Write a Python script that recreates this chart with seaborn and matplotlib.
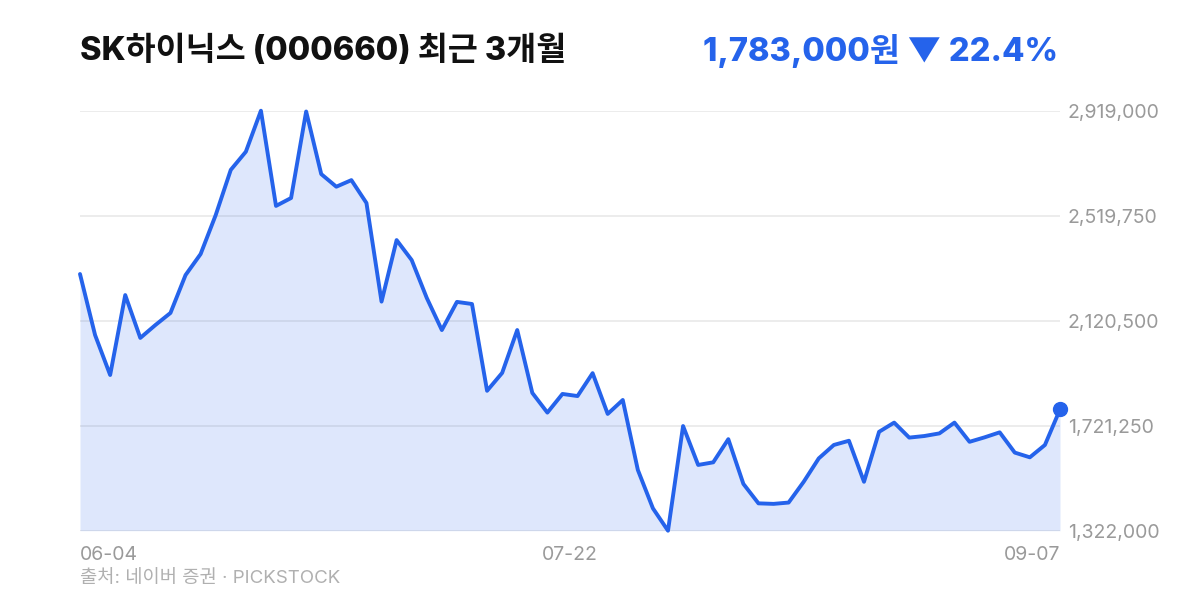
import numpy as np
import pandas as pd
import matplotlib
matplotlib.use("Agg")
import matplotlib.pyplot as plt
import seaborn as sns

# --- Data ---
prices = [
    2298000, 2066000, 1914000, 2218000, 2055000, 2104000, 2150000, 2294000,
    2374000, 2522000, 2694000, 2763000, 2919000, 2557000, 2587000, 2916000,
    2678000, 2630000, 2655000, 2568000, 2193000, 2427000, 2351000, 2207000,
    2085000, 2192000, 2184000, 1854000, 1922000, 2085000, 1846000, 1771000,
    1842000, 1834000, 1921000, 1766000, 1819000, 1553000, 1407000, 1322000,
    1720000, 1572000, 1582000, 1670000, 1500000, 1426000, 1424000, 1429000,
    1508000, 1597000, 1648000, 1664000, 1508000, 1698000, 1733000, 1676000,
    1682000, 1692000, 1733000, 1660000, 1677000, 1696000, 1619000, 1601000,
    1648000, 1783000,
]
x_labels = ["06-04", "07-22", "09-07"]
y_ticks = [1322000, 1721250, 2120500, 2519750, 2919000]

title = "SK하이닉스 (000660) 최근 3개월"
price_text = "1,783,000원 ▼ 22.4%"
source_text = "출처: 네이버 증권 · PICKSTOCK"

BLUE = "#2563eb"
GRID = "#ececec"
TICK = "#9a9a9a"

df = pd.DataFrame({"idx": np.arange(len(prices)), "price": prices})

sns.set_theme(style="white")
plt.rcParams["font.family"] = ["Inter", "Noto Sans CJK KR", "DejaVu Sans"]

fig = plt.figure(figsize=(12, 6), dpi=100)
ax = fig.add_axes([80 / 1200, 1 - 530.7 / 600, 980 / 1200, 420 / 600])

ax.fill_between(df["idx"], df["price"], y_ticks[0], color=BLUE, alpha=0.15,
                linewidth=0, zorder=1)
sns.lineplot(data=df, x="idx", y="price", ax=ax, color=BLUE, linewidth=2.8,
             zorder=3, clip_on=False)
ax.plot(df["idx"].iloc[-1], df["price"].iloc[-1], "o", color=BLUE,
        markersize=10, zorder=4, clip_on=False)

ax.set_xlim(0, len(prices) - 1)
ax.set_ylim(y_ticks[0], y_ticks[-1])

# grid + ticks
ax.set_yticks(y_ticks)
ax.set_yticklabels([f"{v:,}" for v in y_ticks])
ax.yaxis.tick_right()
ax.grid(axis="y", color=GRID, linewidth=1.4, zorder=0)
ax.grid(axis="x", visible=False)
ax.tick_params(axis="y", length=0, pad=5.5, labelsize=14, labelcolor=TICK)

n = len(prices) - 1
ax.set_xticks([0, n / 2, n])
ax.set_xticklabels(x_labels)
ax.tick_params(axis="x", length=0, pad=11, labelsize=14, labelcolor=TICK)
xt = ax.get_xticklabels()
xt[0].set_ha("left")
xt[-1].set_ha("right")

for s in ax.spines.values():
    s.set_visible(False)
ax.set_xlabel("")
ax.set_ylabel("")

# header / footer
fig.text(80 / 1200, 1 - 51 / 600, title, fontsize=23.5, fontweight="heavy",
         color="#111111", ha="left", va="center")
fig.text(1058 / 1200, 1 - 51 / 600, price_text, fontsize=23.5, fontweight="heavy",
         color=BLUE, ha="right", va="center")
fig.text(80 / 1200, 1 - 579 / 600, source_text, fontsize=13.5, color="#b0b0b0",
         ha="left", va="center")

fig.savefig("out.png", dpi=100)
